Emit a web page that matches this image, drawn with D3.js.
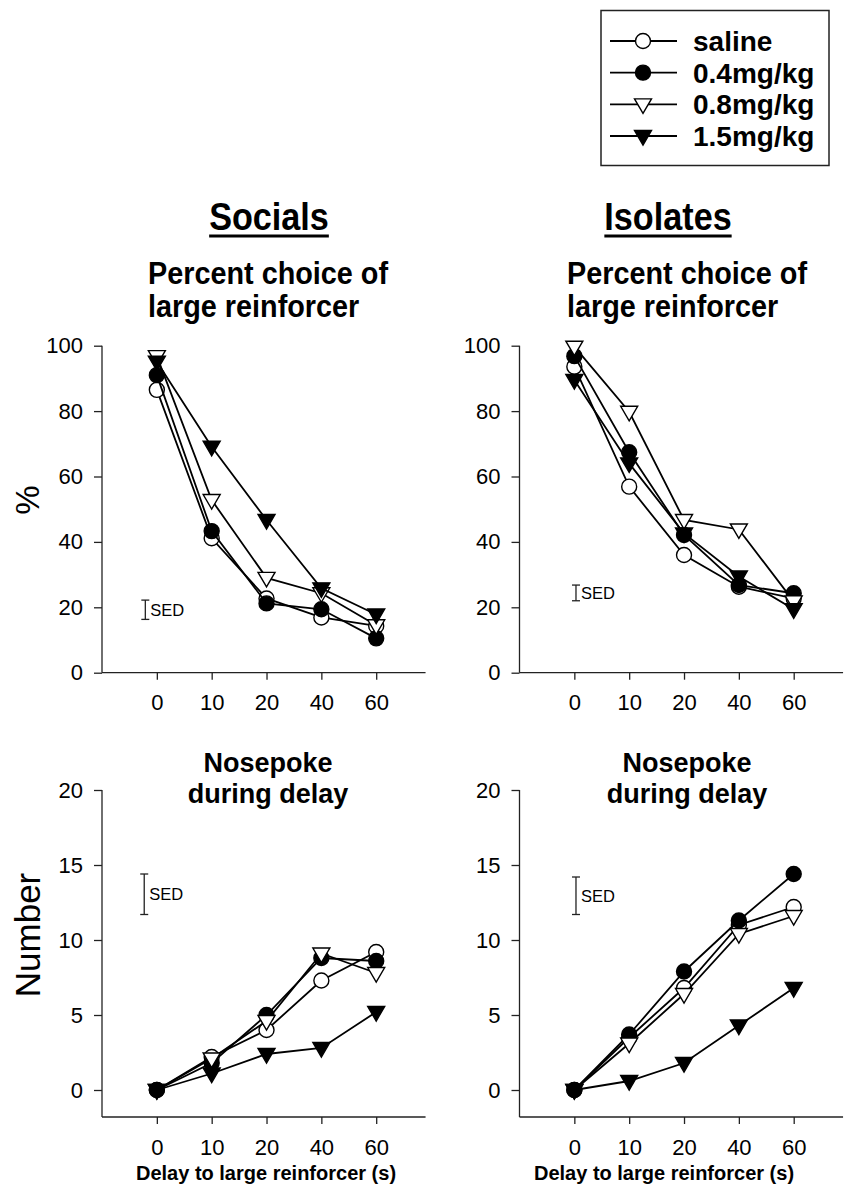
<!DOCTYPE html>
<html>
<head>
<meta charset="utf-8">
<script src="https://cdn.jsdelivr.net/npm/d3@7"></script>
<style>
  html, body { margin: 0; padding: 0; background: #fff; }
  svg { display: block; font-family: "Liberation Sans", Arial, sans-serif; }
</style>
</head>
<body>
<svg id="chart" width="849" height="1188"></svg>
<script>
// delays (categorical x axis) and series
const delays = ["0", "10", "20", "40", "60"];
const seriesNames = ["saline", "0.4mg/kg", "0.8mg/kg", "1.5mg/kg"];
const seriesSymbols = ["circleOpen", "circleFilled", "triOpen", "triFilled"];

// percent choice of large reinforcer
const socialsPctSaline = [86.5, 41.1, 22.7, 16.9, 14.3];
const socialsPct04 = [91.0, 43.3, 21.2, 19.4, 10.5];
const socialsPct08 = [96.8, 52.8, 29.0, 24.3, 14.5];
const socialsPct15 = [95.1, 69.1, 46.7, 25.8, 17.8];

const isolatesPctSaline = [93.6, 56.9, 36.0, 26.3, 22.7];
const isolatesPct04 = [96.8, 67.4, 42.1, 26.8, 24.3];
const isolatesPct08 = [99.7, 79.8, 46.7, 43.8, 21.8];
const isolatesPct15 = [89.5, 64.0, 42.6, 29.4, 19.4];

// nosepokes during delay
const socialsPokeSaline = [0, 2.2, 4.0, 7.3, 9.2];
const socialsPoke04 = [0, 1.8, 5.0, 8.8, 8.6];
const socialsPoke08 = [0, 2.1, 4.6, 9.1, 7.8];
const socialsPoke15 = [0, 1.1, 2.4, 2.8, 5.2];

const isolatesPokeSaline = [0, 3.5, 6.8, 11.0, 12.2];
const isolatesPoke04 = [0, 3.7, 7.9, 11.3, 14.4];
const isolatesPoke08 = [0, 3.1, 6.4, 10.4, 11.6];
const isolatesPoke15 = [0, 0.6, 1.8, 4.3, 6.8];

// SED bars: [x position in delay index units, low, high]
const sedSocialsPct = [-0.21, 16.3, 22.2];
const sedIsolatesPct = [0.03, 22.0, 26.8];
const sedSocialsPoke = [-0.23, 11.7, 14.4];
const sedIsolatesPoke = [0.03, 11.7, 14.2];

const pctTicks = [0, 20, 40, 60, 80, 100];
const pokeTicks = [0, 5, 10, 15, 20];

const svg = d3.select("#chart");

function symbolPath(kind) {
  if (kind.startsWith("circle")) return d3.symbol().type(d3.symbolCircle).size(Math.PI * 7.5 * 7.5)();
  // downward triangle
  return "M-8.5,-5.5L8.5,-5.5L0,9Z";
}

function drawMarker(g, kind, x, y) {
  g.append("path")
    .attr("d", symbolPath(kind))
    .attr("transform", `translate(${x},${y})`)
    .attr("fill", kind.endsWith("Filled") ? "#000" : "#fff")
    .attr("stroke", "#000")
    .attr("stroke-width", 1.4);
}

// bold text, optionally squeezed horizontally (the top headings use a narrow face)
function boldText(x, y, txt, size, anchor, sx) {
  return svg.append("text")
    .attr("transform", `translate(${x},${y}) scale(${sx || 1},1)`)
    .attr("text-anchor", anchor || "start")
    .style("font-size", size + "px").style("font-weight", "bold").text(txt);
}

function drawPanel(p) {
  const g = svg.append("g");
  const x = d3.scaleLinear().domain([-1, 4]).range([p.left, p.left + 274.2]);
  const y = d3.scaleLinear().domain(p.yDomain).range(p.yRange);

  // axis lines
  g.append("line").attr("x1", p.left).attr("x2", p.left)
    .attr("y1", y(p.yDomain[1])).attr("y2", p.axisY)
    .attr("stroke", "#222").attr("stroke-width", 1.3);
  g.append("line").attr("x1", p.left).attr("x2", x(4.9))
    .attr("y1", p.axisY).attr("y2", p.axisY)
    .attr("stroke", "#222").attr("stroke-width", 1.3);

  const yAxis = g.append("g").attr("transform", `translate(${p.left},0)`)
    .call(d3.axisLeft(y).tickValues(p.yTicks).tickSize(8).tickPadding(11));
  const xAxis = g.append("g").attr("transform", `translate(0,${p.axisY})`)
    .call(d3.axisBottom(x).tickValues([0, 1, 2, 3, 4]).tickFormat(i => delays[i])
      .tickSize(7).tickPadding(15));
  [yAxis, xAxis].forEach(a => {
    a.select(".domain").remove();
    a.selectAll(".tick line").attr("stroke", "#222").attr("stroke-width", 1.3);
    a.selectAll(".tick text").attr("fill", "#000")
      .style("font-size", "22px").style("font-family", "Liberation Sans, Arial, sans-serif");
  });

  // SED bar
  const [sx, lo, hi] = p.sed;
  const sg = g.append("g").attr("stroke", "#222").attr("stroke-width", 1.3);
  sg.append("line").attr("x1", x(sx)).attr("x2", x(sx)).attr("y1", y(lo)).attr("y2", y(hi));
  sg.append("line").attr("x1", x(sx) - 4).attr("x2", x(sx) + 4).attr("y1", y(lo)).attr("y2", y(lo));
  sg.append("line").attr("x1", x(sx) - 4).attr("x2", x(sx) + 4).attr("y1", y(hi)).attr("y2", y(hi));
  g.append("text").attr("x", x(sx) + 5).attr("y", y((lo + hi) / 2)).attr("dy", "0.35em")
    .style("font-size", "16.5px").text("SED");

  // series, drawn in legend order
  const line = d3.line().x((d, i) => x(i)).y(d => y(d));
  p.series.forEach((vals, k) => {
    g.append("path").attr("d", line(vals)).attr("fill", "none")
      .attr("stroke", "#000").attr("stroke-width", 1.8);
    vals.forEach((v, i) => drawMarker(g, seriesSymbols[k], x(i), y(v)));
  });

  p.titles.forEach(t => boldText(t.x, t.y, t.text, t.size, t.anchor, t.sx));
}

drawPanel({
  left: 102, yDomain: [0, 100], yRange: [672.7, 345.7], axisY: 672.7, yTicks: pctTicks,
  series: [socialsPctSaline, socialsPct04, socialsPct08, socialsPct15], sed: sedSocialsPct,
  titles: [
    { x: 148, y: 284, size: 32, sx: 0.9, text: "Percent choice of" },
    { x: 148, y: 317, size: 32, sx: 0.9, text: "large reinforcer" }
  ]
});
drawPanel({
  left: 519.5, yDomain: [0, 100], yRange: [672.7, 345.7], axisY: 672.7, yTicks: pctTicks,
  series: [isolatesPctSaline, isolatesPct04, isolatesPct08, isolatesPct15], sed: sedIsolatesPct,
  titles: [
    { x: 567, y: 284, size: 32, sx: 0.9, text: "Percent choice of" },
    { x: 567, y: 317, size: 32, sx: 0.9, text: "large reinforcer" }
  ]
});
drawPanel({
  left: 102, yDomain: [0, 20], yRange: [1090, 790], axisY: 1117, yTicks: pokeTicks,
  series: [socialsPokeSaline, socialsPoke04, socialsPoke08, socialsPoke15], sed: sedSocialsPoke,
  titles: [
    { x: 268, y: 772, size: 27, anchor: "middle", text: "Nosepoke" },
    { x: 268, y: 803, size: 27, anchor: "middle", text: "during delay" },
    { x: 266, y: 1180, size: 20, anchor: "middle", text: "Delay to large reinforcer (s)" }
  ]
});
drawPanel({
  left: 519.5, yDomain: [0, 20], yRange: [1090, 790], axisY: 1117, yTicks: pokeTicks,
  series: [isolatesPokeSaline, isolatesPoke04, isolatesPoke08, isolatesPoke15], sed: sedIsolatesPoke,
  titles: [
    { x: 687, y: 772, size: 27, anchor: "middle", text: "Nosepoke" },
    { x: 687, y: 803, size: 27, anchor: "middle", text: "during delay" },
    { x: 664, y: 1180, size: 20, anchor: "middle", text: "Delay to large reinforcer (s)" }
  ]
});

// group headings, underlined
[["Socials", 269], ["Isolates", 668]].forEach(([txt, cx]) => {
  const t = boldText(cx, 230, txt, 38, "middle", 0.9);
  const w = t.node().getComputedTextLength() * 0.9;
  svg.append("line").attr("x1", cx - w / 2).attr("x2", cx + w / 2)
    .attr("y1", 236).attr("y2", 236).attr("stroke", "#000").attr("stroke-width", 3);
});

// y axis titles
svg.append("text").attr("transform", "translate(39,500) rotate(-90)")
  .attr("text-anchor", "middle").style("font-size", "33px").text("%");
svg.append("text").attr("transform", "translate(40,935) rotate(-90)")
  .attr("text-anchor", "middle").style("font-size", "35px").text("Number");

// legend
const legend = svg.append("g");
legend.append("rect").attr("x", 601).attr("y", 10.5).attr("width", 228).attr("height", 155)
  .attr("fill", "#fff").attr("stroke", "#222").attr("stroke-width", 1.5);
const legendY = d3.scalePoint().domain(seriesNames).range([41, 136]);
seriesNames.forEach((name, k) => {
  const ly = legendY(name);
  legend.append("line").attr("x1", 610).attr("x2", 677).attr("y1", ly).attr("y2", ly)
    .attr("stroke", "#000").attr("stroke-width", 1.8);
  drawMarker(legend, seriesSymbols[k], 643, ly);
  legend.append("text").attr("x", 693).attr("y", ly).attr("dy", "0.36em")
    .style("font-size", "28px").style("font-weight", "bold").text(name);
});
</script>
</body>
</html>
